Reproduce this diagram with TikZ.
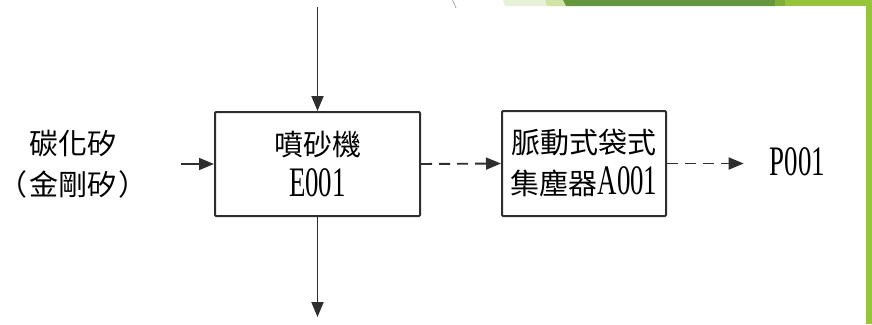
\documentclass[tikz,border=0pt]{standalone}
\usepackage{fontspec}
\setmainfont[FakeStretch=0.64]{Liberation Serif}
\newfontfamily\cjk{Noto Sans CJK TC}
\usepackage{tikz}
\usetikzlibrary{arrows.meta, positioning}
\definecolor{linegray}{HTML}{2E2E2E}
\definecolor{facetpale}{HTML}{E8F1D8}
\definecolor{facetlight}{HTML}{CFE3A2}
\definecolor{facetdark}{HTML}{66963E}
\definecolor{facetmid}{HTML}{7FAF33}
\definecolor{facetbright}{HTML}{96C43A}
\newcommand{\latn}[1]{{\normalfont\fontsize{42}{41}\selectfont #1}}
\tikzset{
  unit/.style={draw=linegray, line width=2pt, rounded corners=1pt, align=center},
  flow/.style={draw=linegray, line width=1.9pt, -{Triangle[length=15pt,width=12pt]}},
  dashflow/.style={flow, dash pattern=on 11pt off 7pt},
}
\begin{document}
\begin{tikzpicture}[x=1pt,y=1pt,font=\fontsize{29}{41}\selectfont\cjk]
\tikzstyle{every node}+=[inner sep=0pt]
\useasboundingbox (0,0) rectangle (872,-324);
% slide decoration
\fill [facetpale] (503,0) -- (545,0) -- (547,-6) -- (505,-6) -- cycle;
\fill [facetlight] (545,0) -- (563,0) -- (566,-6) -- (547,-6) -- cycle;
\fill [facetdark] (563,0) -- (775,0) -- (775,-6) -- (566,-6) -- cycle;
\fill [facetmid] (775,0) rectangle (785,-6);
\fill [facetbright] (785,0) rectangle (872,-6);
\fill [facetbright] (866,0) rectangle (872,-324);
\draw [black!35, line width=0.8pt] (452.5,0) .. controls (453.5,-4) .. (456,-8);
% units
\node [unit, minimum width=205pt, minimum height=104pt] (blast) at (317.5,-164) {噴砂機\\\latn{E001}};
\node [unit, minimum width=164pt, minimum height=105pt] (collector) at (584,-163.5) {脈動式袋式\\集塵器\latn{A001}};
\node [align=center] (sic) at (73,-164) {碳化矽\\（\hspace{2pt}金剛矽\hspace{2pt}）};
\node (stack) at (797.5,-162) {\latn{P001}};
\coordinate (feed) at (317.5,-7);
\coordinate (waste) at (317.5,-317);
% streams
\draw [flow] (feed) -- (blast);
\draw [flow] (blast) -- (waste);
\draw [flow, shorten <=33pt] (sic.east) -- (blast.west);
\draw [dashflow] (blast.east) -- (collector.west);
\draw [dashflow, shorten >=26pt] (collector.east) -- (stack.west |- collector.east);
\end{tikzpicture}
\end{document}
